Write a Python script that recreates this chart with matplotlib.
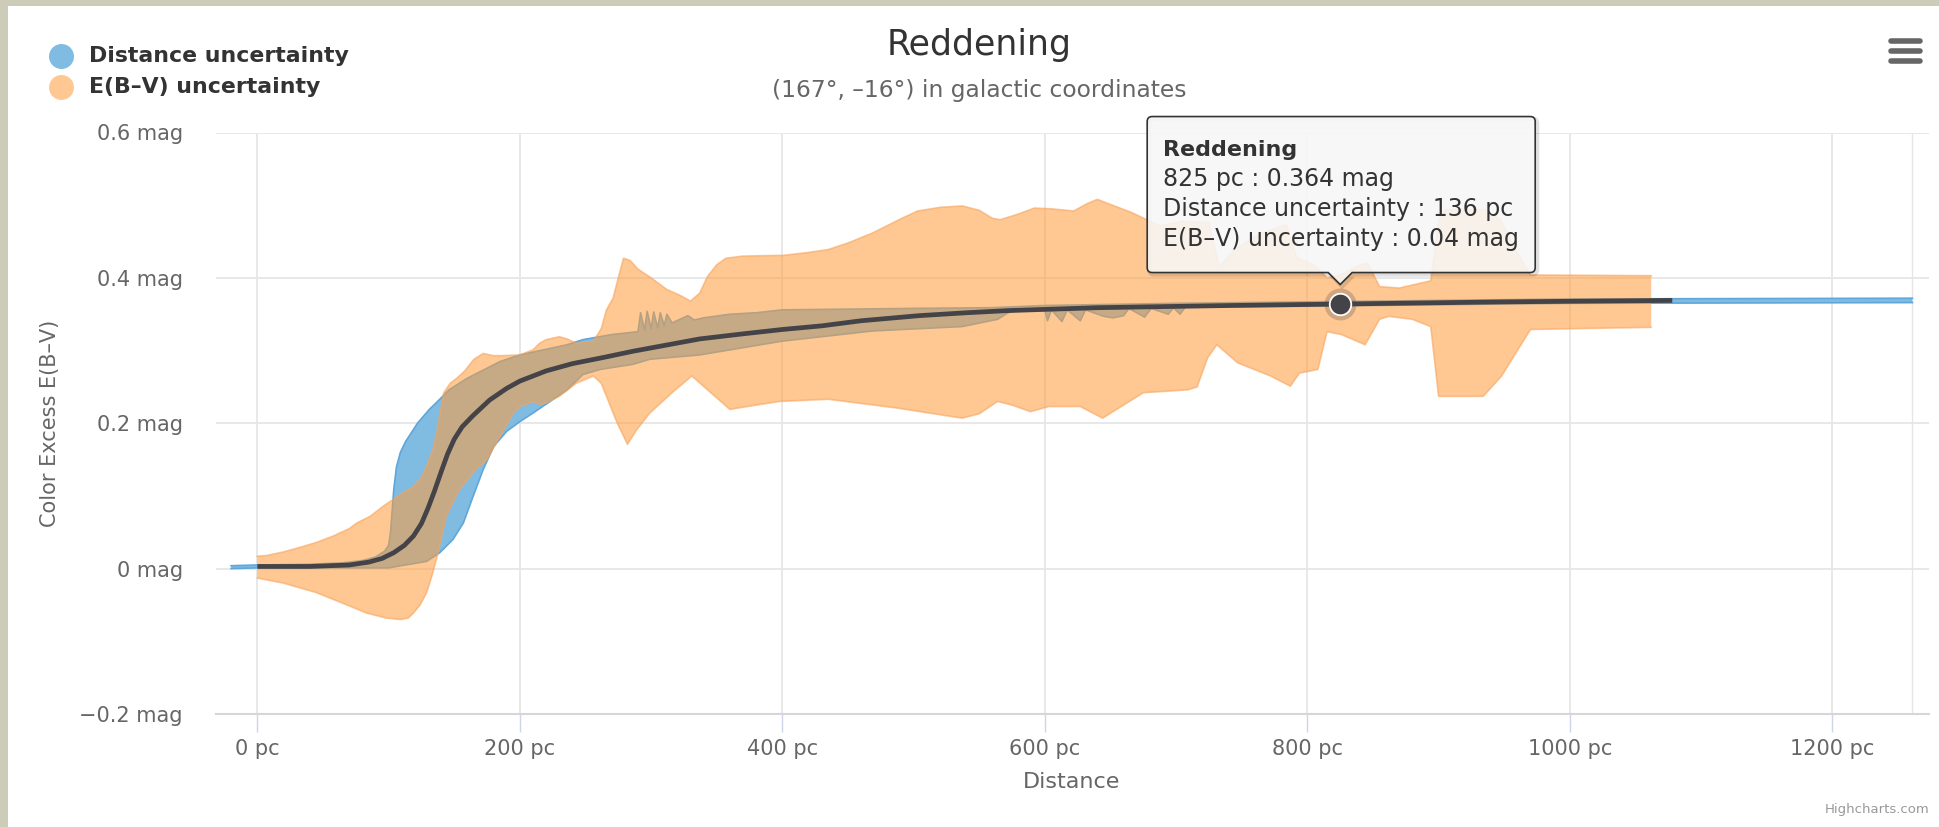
import numpy as np
import matplotlib
matplotlib.use("Agg")
import matplotlib.pyplot as plt
from matplotlib.path import Path
from matplotlib.patches import PathPatch, Rectangle
from matplotlib.lines import Line2D
from matplotlib.transforms import IdentityTransform

# ---------------- data ----------------
# Reddening median curve
line_dist = [0, 40, 70, 85, 95, 104, 112, 119, 125, 130, 135, 140, 145, 150, 156,
             164, 177, 190, 200, 220, 240, 265, 286, 310, 337, 370, 400, 430, 460,
             504, 540, 572, 640, 742, 825, 950, 1078]
line_ebv = [0.003, 0.003, 0.005, 0.009, 0.014, 0.022, 0.032, 0.045, 0.062, 0.083,
            0.107, 0.133, 0.158, 0.178, 0.195, 0.210, 0.232, 0.248, 0.258, 0.272,
            0.282, 0.291, 0.299, 0.307, 0.316, 0.323, 0.329, 0.334, 0.341, 0.348,
            0.352, 0.355, 0.359, 0.362, 0.364, 0.367, 0.369]

# Distance uncertainty band (upper / lower edges)
dist_hi_x = [-20, 0, 40, 65, 80, 90, 97, 100, 101.5, 102.5, 104, 106, 109, 113, 117,
             122, 131, 139, 146, 160, 185, 200, 236, 248, 270, 290, 292, 295, 297,
             300, 302, 305, 307, 310, 312, 316, 322, 328, 333, 340, 360, 380, 400,
             450, 500, 560, 600, 700, 800, 1000, 1261]
dist_hi_y = [0.004, 0.005, 0.006, 0.008, 0.011, 0.016, 0.024, 0.032, 0.050, 0.075,
             0.110, 0.140, 0.160, 0.175, 0.186, 0.200, 0.219, 0.233, 0.246, 0.262,
             0.285, 0.294, 0.308, 0.315, 0.322, 0.326, 0.352, 0.328, 0.354, 0.330,
             0.353, 0.331, 0.352, 0.334, 0.350, 0.338, 0.343, 0.348, 0.342, 0.345,
             0.350, 0.352, 0.356, 0.357, 0.358, 0.359, 0.362, 0.365, 0.367, 0.371,
             0.372]
dist_lo_x = [-20, 0, 100, 129, 139, 149, 157, 164.5, 172, 180, 190, 200.6, 210, 223,
             236, 248, 261, 286, 299, 337, 400, 469, 537, 564, 572, 582, 600, 602,
             605, 613, 617, 627, 631, 645, 652, 660, 664, 676, 681, 694, 698, 703,
             707, 800, 1000, 1261]
dist_lo_y = [0.000, 0.001, 0.001, 0.010, 0.022, 0.040, 0.063, 0.100, 0.136, 0.168,
             0.189, 0.203, 0.214, 0.230, 0.246, 0.267, 0.274, 0.281, 0.288, 0.294,
             0.313, 0.327, 0.333, 0.343, 0.352, 0.356, 0.356, 0.341, 0.356, 0.340,
             0.356, 0.341, 0.356, 0.347, 0.345, 0.348, 0.358, 0.346, 0.358, 0.350,
             0.359, 0.350, 0.360, 0.361, 0.365, 0.366]

# E(B-V) uncertainty band (upper / lower edges)
ebv_hi_x = [0, 7, 20, 32, 45, 58, 70, 76, 86, 96, 109, 119, 125, 129, 134, 137, 140,
            142, 147, 152, 158, 165, 172, 180, 187, 200, 210, 215, 220, 230, 236,
            243, 256, 262, 266, 271, 275, 279, 284, 290, 300, 312, 322, 330, 337,
            343, 350, 357, 370, 401, 420, 435, 450, 469, 490, 503, 520, 537, 550,
            560, 566, 580, 592, 605, 622, 632, 640, 650, 666, 680, 688, 705, 725,
            733, 745, 765, 784, 792, 805, 815, 826, 840, 846, 855, 870, 894, 900,
            905, 935, 947, 960, 970, 1062]
ebv_hi_y = [0.017, 0.018, 0.023, 0.029, 0.036, 0.045, 0.055, 0.063, 0.072, 0.086,
            0.102, 0.113, 0.125, 0.141, 0.165, 0.191, 0.222, 0.242, 0.255, 0.262,
            0.272, 0.288, 0.296, 0.293, 0.293, 0.294, 0.301, 0.310, 0.315, 0.319,
            0.316, 0.310, 0.313, 0.330, 0.356, 0.372, 0.400, 0.427, 0.424, 0.412,
            0.400, 0.384, 0.376, 0.368, 0.379, 0.402, 0.418, 0.427, 0.430, 0.431,
            0.435, 0.439, 0.448, 0.462, 0.481, 0.492, 0.497, 0.499, 0.493, 0.482,
            0.480, 0.488, 0.496, 0.495, 0.492, 0.502, 0.508, 0.501, 0.490, 0.478,
            0.472, 0.478, 0.476, 0.416, 0.440, 0.462, 0.473, 0.428, 0.418, 0.400,
            0.405, 0.418, 0.420, 0.388, 0.386, 0.396, 0.480, 0.494, 0.494, 0.480,
            0.435, 0.404, 0.403]
ebv_lo_x = [0, 20, 45, 71, 83, 98, 109, 115, 119, 124, 129, 133, 137, 144, 150, 154,
            160, 165, 175, 185, 195, 200, 210, 215, 220, 230, 243, 256, 262, 266,
            274, 282, 289, 299, 316, 331, 343, 360, 380, 398, 435, 487, 537, 550,
            564, 575, 589, 603, 627, 644, 660, 675, 709, 716, 724, 731, 747, 772,
            787, 794, 808, 815, 826, 844, 855, 862, 880, 894, 900, 934, 948, 960,
            970, 1062]
ebv_lo_y = [-0.013, -0.020, -0.033, -0.052, -0.061, -0.068, -0.070, -0.068, -0.061,
            -0.050, -0.033, -0.010, 0.017, 0.072, 0.095, 0.109, 0.122, 0.134, 0.150,
            0.182, 0.214, 0.223, 0.230, 0.226, 0.228, 0.237, 0.255, 0.265, 0.255,
            0.237, 0.201, 0.171, 0.191, 0.214, 0.242, 0.265, 0.246, 0.219, 0.225,
            0.230, 0.233, 0.221, 0.207, 0.213, 0.230, 0.225, 0.216, 0.223, 0.223,
            0.207, 0.225, 0.242, 0.246, 0.250, 0.290, 0.308, 0.283, 0.265, 0.251,
            0.269, 0.274, 0.326, 0.322, 0.308, 0.343, 0.347, 0.343, 0.333, 0.237,
            0.237, 0.265, 0.300, 0.329, 0.332]

# hovered point / tooltip content
hover_dist = 825
hover_ebv = 0.364
hover_dist_unc = 136
hover_ebv_unc = 0.04

x_ticks = [0, 200, 400, 600, 800, 1000, 1200]
x_ticklabels = ["0 pc", "200 pc", "400 pc", "600 pc", "800 pc", "1000 pc", "1200 pc"]
y_ticks = [-0.2, 0.0, 0.2, 0.4, 0.6]
y_ticklabels = ["\u22120.2 mag", "0 mag", "0.2 mag", "0.4 mag", "0.6 mag"]

# ---------------- styling ----------------
W, H = 1940, 827
plt.rcParams['font.family'] = ['DejaVu Sans']
BLUE = '#80BBE2'
BLUE_EDGE = '#5FA6DA'
ORANGE = '#FF9C3A'
ORANGE_A = 0.55
LINE = '#434348'
GRID = '#E6E6E6'

fig = plt.figure(figsize=(W / 100, H / 100), dpi=100)
fig.patch.set_facecolor('white')

def fx(px):
    return px / W

def fy(py):
    return 1 - py / H

# page border strips
fig.add_artist(Rectangle((0, fy(6)), 1, 6 / H, transform=fig.transFigure,
                         facecolor='#CDCCB9', edgecolor='none'))
fig.add_artist(Rectangle((0, 0), 8 / W, 1, transform=fig.transFigure,
                         facecolor='#CDCCB9', edgecolor='none'))

ax = fig.add_axes([fx(216), fy(714), (1929 - 216) / W, (714 - 132.5) / H])
ax.set_xlim(-31.5, 1273.6)
ax.set_ylim(-0.2, 0.6)
for s in ['top', 'right', 'left']:
    ax.spines[s].set_visible(False)
ax.spines['bottom'].set_color('#D6D6D6')
ax.spines['bottom'].set_linewidth(1.5)
ax.set_axisbelow(True)
ax.grid(True, color=GRID, lw=1.3, zorder=0)

ax.set_xticks(x_ticks)
ax.set_xticklabels(x_ticklabels)
ax.set_yticks(y_ticks)
ax.set_yticklabels(y_ticklabels)
ax.tick_params(axis='x', length=13, width=1, color='#CCD6EB', pad=5,
               labelsize=15, labelcolor='#666666')
ax.tick_params(axis='y', length=0, pad=24, labelsize=15, labelcolor='#666666')

# faint line at right end of data range
ax.axvline(dist_hi_x[-1], color=GRID, lw=1, zorder=0)

# distance uncertainty band
ax.fill(list(dist_hi_x) + list(dist_lo_x[::-1]), list(dist_hi_y) + list(dist_lo_y[::-1]),
        facecolor=BLUE, edgecolor='none', zorder=2)
ax.plot(dist_hi_x, dist_hi_y, color=BLUE_EDGE, lw=1.2, zorder=2)
ax.plot(dist_lo_x, dist_lo_y, color=BLUE_EDGE, lw=1.2, zorder=2)

# E(B-V) uncertainty band
ax.fill(list(ebv_hi_x) + list(ebv_lo_x[::-1]), list(ebv_hi_y) + list(ebv_lo_y[::-1]),
        facecolor=ORANGE, alpha=ORANGE_A, edgecolor='none', zorder=3)
ax.plot(ebv_hi_x, ebv_hi_y, color='#F7A35C', alpha=0.6, lw=1.2, zorder=3)
ax.plot(ebv_lo_x, ebv_lo_y, color='#F7A35C', alpha=0.6, lw=1.2, zorder=3)

# reddening line
ax.plot(line_dist, line_ebv, color=LINE, lw=3.4, solid_capstyle='butt', zorder=5)

# hovered marker
ax.plot([hover_dist], [hover_ebv], 'o', ms=23, color=LINE, alpha=0.25, mec='none', zorder=6)
ax.plot([hover_dist], [hover_ebv], 'o', ms=15.5, color=LINE, mec='white', mew=1.3, zorder=7)

# titles
fig.text(fx(979), fy(45), "Reddening", ha='center', va='center', fontsize=25, color='#333333')
fig.text(fx(979), fy(90), "(167°, \u201316°) in galactic coordinates", ha='center',
         va='center', fontsize=16.8, color='#666666')
fig.text(fx(1072), fy(782), "Distance", ha='center', va='center', fontsize=16, color='#666666')
fig.text(fx(50), fy(423), "Color Excess E(B\u2013V)", ha='center', va='center',
         rotation=90, fontsize=15, color='#666666')
fig.text(fx(1930), fy(810), "Highcharts.com", ha='right', va='center', fontsize=9.5,
         color='#999999')

# legend
leg_items = [("Distance uncertainty", BLUE, 1.0, 56), ("E(B\u2013V) uncertainty", ORANGE, ORANGE_A, 87)]
for label, col, a, yy in leg_items:
    fig.add_artist(Line2D([fx(61)], [fy(yy)], marker='o', ms=18, color=col, alpha=a,
                          mec='none', transform=fig.transFigure))
    fig.text(fx(89), fy(yy), label, ha='left', va='center', fontsize=15.8,
             fontweight='bold', color='#333333')

# menu icon
for yy in (41, 51, 61):
    fig.add_artist(Line2D([fx(1891), fx(1920)], [fy(yy), fy(yy)], lw=4.0, color='#666666',
                          solid_capstyle='round', transform=fig.transFigure))

# tooltip
fig.canvas.draw()
px, py = ax.transData.transform((hover_dist, hover_ebv))
L, R = px - 193, px + 195
B, T = py + 31.5, py + 187.5
tip = py + 19.5
r = 5
verts = [(L + r, B), (px - 12, B), (px, tip), (px + 12, B), (R - r, B),
         (R, B), (R, B + r), (R, T - r), (R, T), (R - r, T), (L + r, T), (L, T),
         (L, T - r), (L, B + r), (L, B), (L + r, B)]
codes = [Path.MOVETO, Path.LINETO, Path.LINETO, Path.LINETO, Path.LINETO,
         Path.CURVE3, Path.CURVE3, Path.LINETO, Path.CURVE3, Path.CURVE3, Path.LINETO,
         Path.CURVE3, Path.CURVE3, Path.LINETO, Path.CURVE3, Path.CURVE3]
tpath = Path(verts, codes)
shadow = Path([(x + 2, y - 2) for x, y in verts], codes)
fig.add_artist(PathPatch(shadow, transform=IdentityTransform(), facecolor='none',
                         edgecolor='black', alpha=0.12, lw=3, zorder=9))
fig.add_artist(PathPatch(tpath, transform=IdentityTransform(), facecolor='#F7F7F7',
                         alpha=0.88, edgecolor='none', zorder=10))
fig.add_artist(PathPatch(tpath, transform=IdentityTransform(), facecolor='none',
                         edgecolor='#333333', lw=1.2, zorder=11))
tx = px - 177
lines = [("Reddening", 'bold', 16, 148),
         (f"{hover_dist} pc : {hover_ebv:.3f} mag", 'normal', 17, 118),
         (f"Distance uncertainty : {hover_dist_unc} pc", 'normal', 17, 88),
         (f"E(B\u2013V) uncertainty : {hover_ebv_unc:.2f} mag", 'normal', 17, 58)]
for s, wgt, fs, dy in lines:
    fig.text(tx, py + dy, s, transform=IdentityTransform(), ha='left', va='baseline',
             fontsize=fs, fontweight=wgt, color='#333333', zorder=12)

fig.savefig("out.png", dpi=100, facecolor='white')
